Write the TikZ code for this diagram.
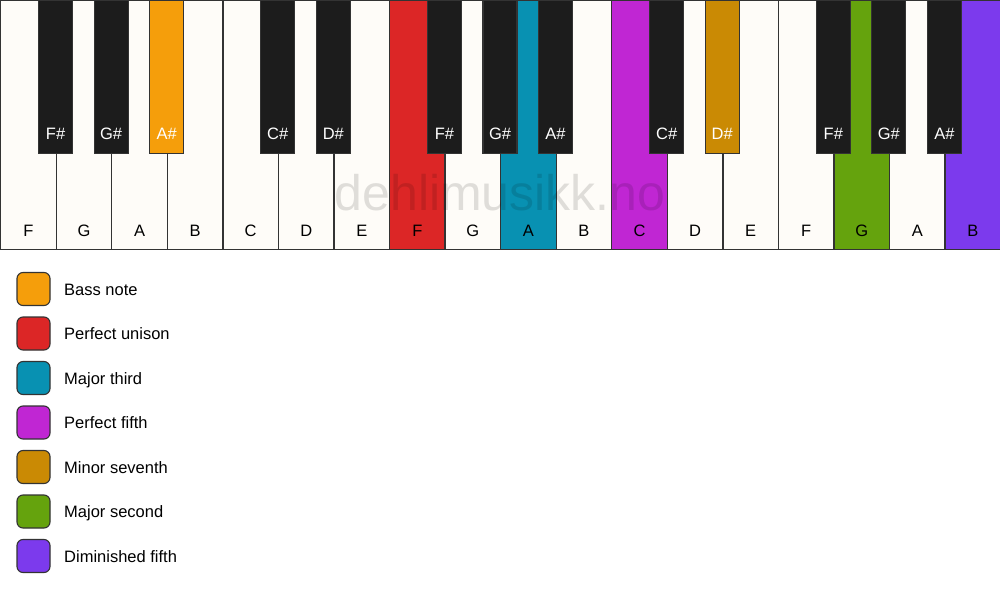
\documentclass[tikz,border=0pt]{standalone}
\usepackage{fontspec}
\setmainfont{Liberation Sans}
\definecolor{keywhite}{HTML}{FEFCF8}
\definecolor{keyblack}{HTML}{1C1C1C}
\definecolor{keyedge}{HTML}{333333}
\definecolor{cbass}{HTML}{F59E0B}
\definecolor{cunison}{HTML}{DC2626}
\definecolor{cthird}{HTML}{0891B2}
\definecolor{cfifth}{HTML}{C026D3}
\definecolor{cseventh}{HTML}{CA8A04}
\definecolor{csecond}{HTML}{65A30D}
\definecolor{cdim}{HTML}{7C3AED}
\begin{document}
\begin{tikzpicture}[x=1pt,y=-1pt,
  whitekey/.style={draw=keyedge, line width=1.3pt, inner sep=0pt, minimum width=55.5556pt, minimum height=249pt, anchor=north west},
  blackkey/.style={draw=keyedge, line width=1.1pt, inner sep=0pt, minimum width=34pt, minimum height=153pt, anchor=north},
  wlabel/.style={inner sep=0pt, anchor=base, font=\fontsize{16.5}{20}\selectfont, text=black},
  blabel/.style={inner sep=0pt, anchor=base, font=\fontsize{16.5}{20}\selectfont, text=white},
  legbox/.style={draw=keyedge, line width=1.1pt, rounded corners=6pt, minimum size=33pt, inner sep=0pt},
  legtext/.style={anchor=base west, inner sep=0pt, font=\fontsize{16.5}{20}\selectfont, text=black}]
\useasboundingbox (0,0) rectangle (1000,594);
\fill[white] (0,0) rectangle (1000,594);
\def\kw{55.5556}
% white keys
\foreach \n/\c [count=\i from 0] in {F/keywhite,G/keywhite,A/keywhite,B/keywhite,C/keywhite,D/keywhite,E/keywhite,F/cunison,G/keywhite,A/cthird,B/keywhite,C/cfifth,D/keywhite,E/keywhite,F/keywhite,G/csecond,A/keywhite,B/cdim}{
  \node[whitekey, fill=\c] (w\i) at (\i*\kw, 0) {};
  \node[wlabel] (wl\i) at ([yshift=14pt]w\i.south) {\n};
}
% watermark
\node[inner sep=0pt, text=black, text opacity=0.12, font=\fontsize{50}{56}\selectfont] (wm) at (500,193) {dehlimusikk.no};
% black keys
\foreach \b/\n/\c in {1/F\#/keyblack,2/G\#/keyblack,3/A\#/cbass,5/C\#/keyblack,6/D\#/keyblack,8/F\#/keyblack,9/G\#/keyblack,10/A\#/keyblack,12/C\#/keyblack,13/D\#/cseventh,15/F\#/keyblack,16/G\#/keyblack,17/A\#/keyblack}{
  \node[blackkey, fill=\c] (b\b) at (\b*\kw, 0) {};
  \node[blabel] (bl\b) at ([yshift=15pt]b\b.south) {\n};
}
% legend
\foreach \c/\t [count=\k from 0] in {cbass/Bass note,cunison/Perfect unison,cthird/Major third,cfifth/Perfect fifth,cseventh/Minor seventh,csecond/Major second,cdim/Diminished fifth}{
  \node[legbox, fill=\c] (lb\k) at (33.5, 289+44.5*\k) {};
  \node[legtext] (lt\k) at (64, 295+44.5*\k) {\t};
}
\end{tikzpicture}
\end{document}
